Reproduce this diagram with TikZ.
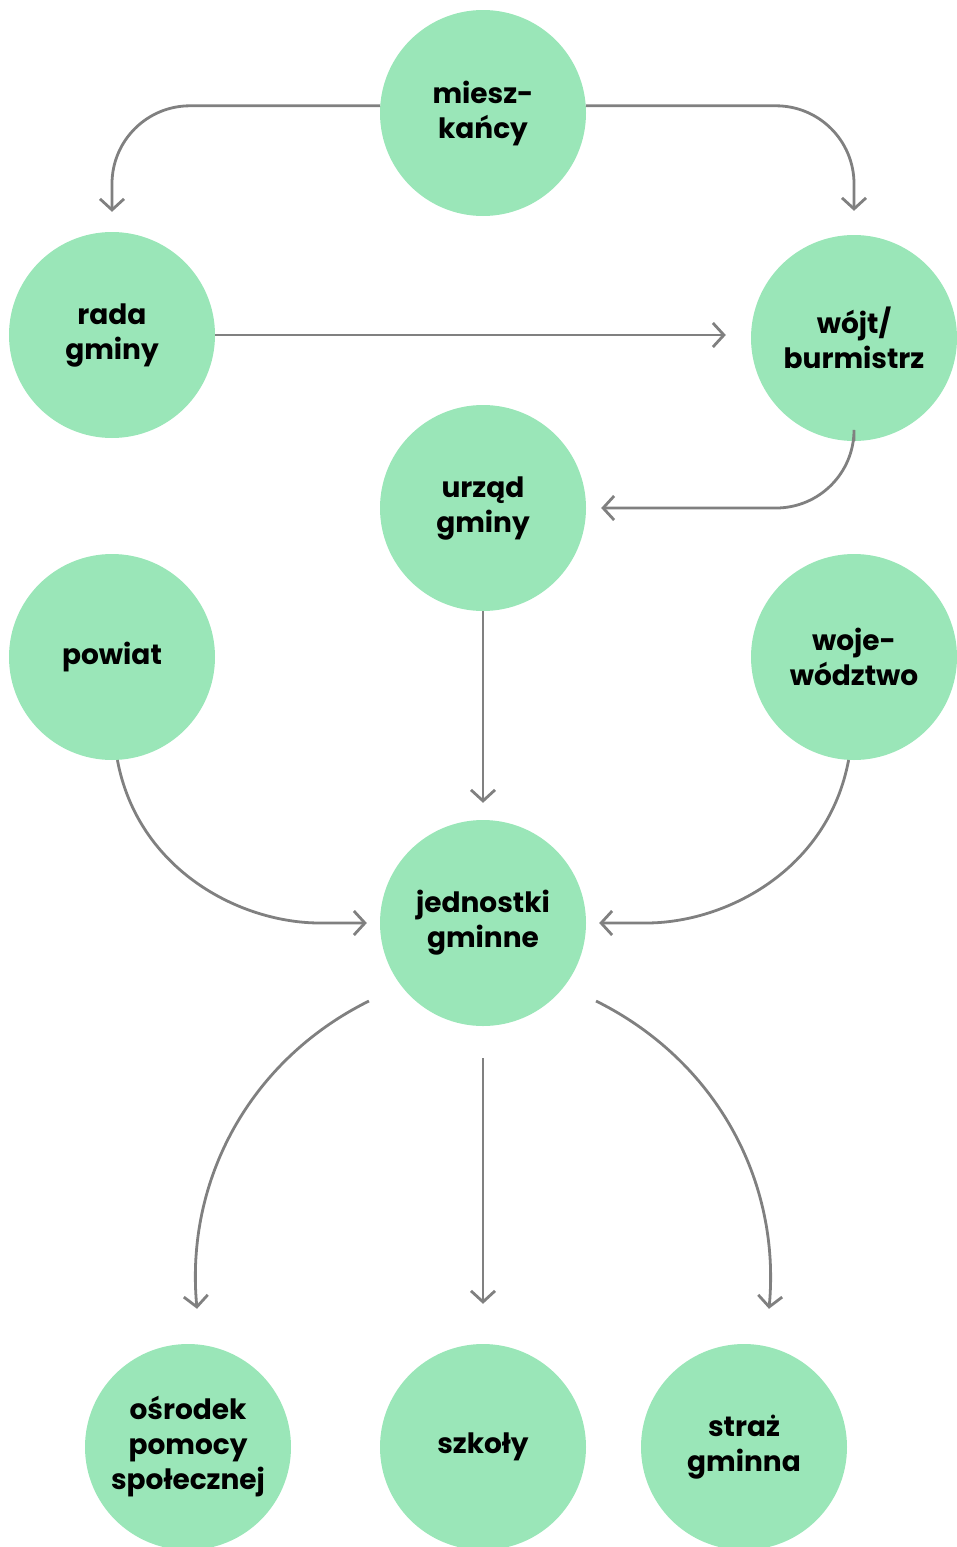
\documentclass[tikz,border=0pt]{standalone}
\usepackage{fontspec}
\setmainfont{Poppins}
\usetikzlibrary{arrows.meta,calc}
\definecolor{circfill}{HTML}{9AE6B8}
\definecolor{conncol}{HTML}{808080}
\begin{document}
\begin{tikzpicture}[x=1pt,y=-1pt,
  circ/.style={circle,fill=circfill,minimum size=206pt,inner sep=0pt,align=center,
    font=\fontsize{28}{35}\selectfont\bfseries},
  conn/.style={draw=conncol,line width=2.8pt,-{Straight Barb[length=11pt,width=24pt]}}]
\useasboundingbox (0,0) rectangle (956,1547);
\node[circ] (m) at (483,113) {miesz-\\kańcy};
\node[circ] (r) at (112,335) {rada\\gminy};
\node[circ] (w) at (854,338) {wójt/\\burmistrz};
\node[circ] (u) at (483,508) {urząd\\gminy};
\node[circ] (p) at (112,657) {powiat};
\node[circ] (v) at (854,657) {woje-\\wództwo};
\node[circ] (j) at (483,923) {jednostki\\gminne};
\node[circ] (o) at (188,1447) {ośrodek\\pomocy\\społecznej};
\node[circ] (s) at (483,1447) {szkoły};
\node[circ] (g) at (744,1447) {straż\\gminna};
% edges
\draw[conn,rounded corners=78pt] (m.176) -- (m.176 -| r.north) -- ($(r.north)+(0,-20)$);
\draw[conn,rounded corners=78pt] (m.4) -- (m.4 -| w.north) -- ($(w.north)+(0,-24)$);
\draw[conn] (r.east) -- ($(r.east -| w.west)+(-25,0)$);
\draw[conn,rounded corners=78pt] (w.south) -- (w.south |- u.east) -- ($(u.east)+(15,0)$);
\draw[conn] (u.south) -- ($(j.north)+(0,-17)$);
\draw[conn] (p.-87) .. controls (138,870) and (240,923) .. (320,923) -- ($(j.west)+(-13,0)$);
\draw[conn] (v.-93) .. controls (828,870) and (726,923) .. (646,923) -- ($(j.east)+(13,0)$);
\draw[conn] ($(j.center)+(-114,78)$) .. controls (250,1060) and (185,1180) .. ($(o.north)+(9,-35)$);
\draw[conn] ($(j.south)+(0,32)$) -- ($(s.north)+(0,-40)$);
\draw[conn] ($(j.center)+(113,78)$) .. controls (715,1060) and (781,1180) .. ($(g.north)+(25,-35)$);
\end{tikzpicture}
\end{document}
